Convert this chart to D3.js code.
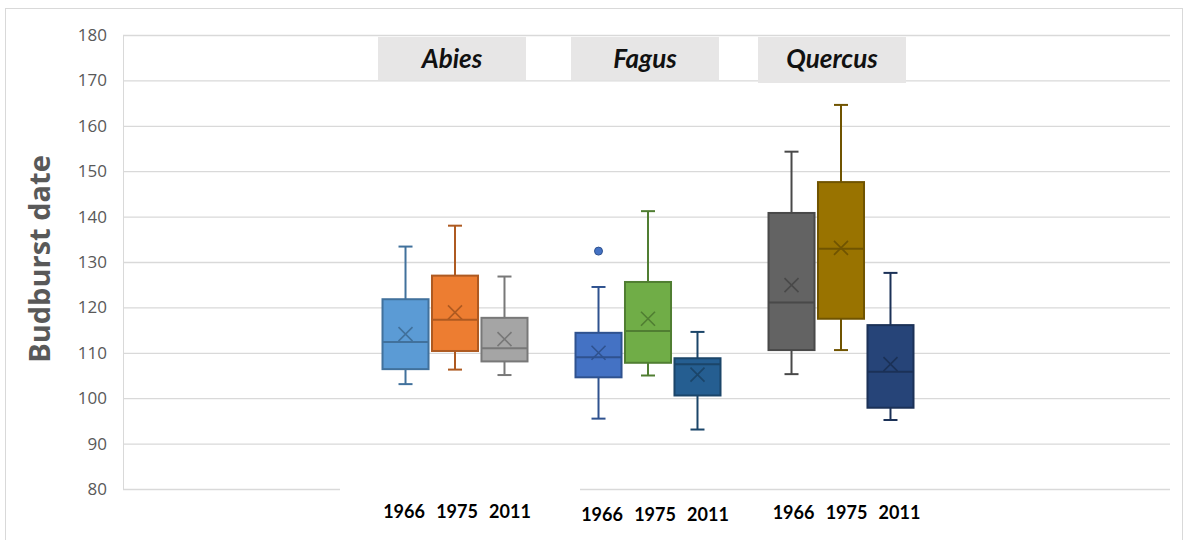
<!DOCTYPE html>
<html>
<head>
<meta charset="utf-8">
<script src="https://cdn.jsdelivr.net/npm/d3@7"></script>
<style>
  body { margin: 0; background: #fff; }
  text { font-family: Lato, "Open Sans", sans-serif; }
</style>
</head>
<body>
<script>
const svgW = 1188;
const svgH = 540;

// data
const species = ['Abies', 'Fagus', 'Quercus'];
const years = ['1966', '1975', '2011'];
const yTicks = [80, 90, 100, 110, 120, 130, 140, 150, 160, 170, 180];
// [low whisker, Q1, median, Q3, high whisker, mean]
const abiesStats = [
  [103.1, 106.4, 112.4, 121.8, 133.4, 114.1],
  [106.3, 110.4, 117.3, 127.0, 138.0, 118.9],
  [105.1, 108.1, 111.0, 117.7, 126.8, 113.0]
];
const fagusStats = [
  [95.5, 104.6, 109.0, 114.4, 124.5, 110.0],
  [105.0, 107.8, 114.8, 125.6, 141.2, 117.5],
  [93.1, 100.6, 107.5, 108.8, 114.6, 105.2]
];
const quercusStats = [
  [105.3, 110.6, 121.1, 140.8, 154.3, 124.9],
  [110.6, 117.5, 132.9, 147.6, 164.6, 133.1],
  [95.2, 97.9, 105.8, 116.1, 127.6, 107.5]
];
const fagusOutliers = [132.4]; // 1966 only

const fills = [
  ['#5b9bd5', '#ed7d31', '#a5a5a5'],
  ['#4472c4', '#70ad47', '#255e91'],
  ['#636363', '#997300', '#264478']
];
const strokes = [
  ['#41719c', '#ae5a21', '#787878'],
  ['#2f528f', '#507e32', '#1b4569'],
  ['#494949', '#705400', '#1b3157']
];

const allStats = [abiesStats, fagusStats, quercusStats];

const svg = d3.select('body')
  .append('svg')
  .attr('width', svgW)
  .attr('height', svgH);

// outer border
svg.append('rect')
  .attr('x', 5.5).attr('y', 8.5)
  .attr('width', 1177).attr('height', 540)
  .attr('fill', 'none')
  .attr('stroke', '#d9d9d9');

const margin = { top: 35, left: 123, right: 1170, bottom: 489 };

const yScale = d3.scaleLinear()
  .domain([80, 180])
  .range([margin.bottom, margin.top]);

const xScale = d3.scaleBand()
  .domain(species)
  .range([358.5, 937.5]);

const xSub = d3.scaleBand()
  .domain(years)
  .range([-72.5, 72.5])
  .paddingInner(0.07);

// year labels are spread a little wider than the boxes
const xLabel = d3.scalePoint()
  .domain(years)
  .range([-53, 53]);

// grid
const yAxis = d3.axisLeft(yScale)
  .tickValues(yTicks)
  .tickSize(-(margin.right - margin.left))
  .tickPadding(16);

const ax = svg.append('g')
  .attr('transform', `translate(${margin.left},0)`)
  .call(yAxis);
ax.select('.domain').attr('stroke', '#d9d9d9');
ax.selectAll('.tick line').attr('stroke', '#d9d9d9').attr('stroke-width', 1.3);
ax.selectAll('.tick text')
  .attr('fill', '#595959')
  .style('font-family', '"Open Sans", sans-serif')
  .style('font-size', '17px');

// white patch hiding baseline under first labels
svg.append('rect')
  .attr('x', 340).attr('y', 487)
  .attr('width', 240).attr('height', 5)
  .attr('fill', '#fff');

// y title
svg.append('text')
  .attr('transform', 'translate(50,259) rotate(-90)')
  .attr('text-anchor', 'middle')
  .attr('fill', '#595959')
  .style('font-family', '"Open Sans", sans-serif')
  .style('font-weight', 'bold')
  .style('font-size', '29px')
  .text('Budburst date');

// species header boxes
const hdrOff = [0, 0, -6];
const hdr = svg.append('g');
species.forEach((s, i) => {
  const cx = xScale(s) + xScale.bandwidth() / 2 + hdrOff[i];
  hdr.append('rect')
    .attr('x', cx - 77).attr('y', 37)
    .attr('width', 148).attr('height', i === 2 ? 46 : 43)
    .attr('fill', '#e7e6e6');
  hdr.append('text')
    .attr('x', cx - 3).attr('y', 68)
    .attr('text-anchor', 'middle')
    .style('font-weight', 'bold')
    .style('font-style', 'italic')
    .style('font-size', '26px')
    .attr('fill', '#111')
    .text(s);
});

// boxes
const labelY = [518, 521, 519];
const labelDx = [2, 7, 5.5];
species.forEach((s, gi) => {
  const g = svg.append('g')
    .attr('transform', `translate(${xScale(s) + xScale.bandwidth() / 2},0)`);
  years.forEach((yr, j) => {
    const d = allStats[gi][j];
    const x0 = xSub(yr);
    const w = xSub.bandwidth();
    const cx = x0 + w / 2;
    const st = strokes[gi][j];
    // whiskers
    g.append('line')
      .attr('x1', cx).attr('x2', cx)
      .attr('y1', yScale(d[0])).attr('y2', yScale(d[1]))
      .attr('stroke', st).attr('stroke-width', 2);
    g.append('line')
      .attr('x1', cx).attr('x2', cx)
      .attr('y1', yScale(d[3])).attr('y2', yScale(d[4]))
      .attr('stroke', st).attr('stroke-width', 2);
    [d[0], d[4]].forEach(v => {
      g.append('line')
        .attr('x1', cx - 7).attr('x2', cx + 7)
        .attr('y1', yScale(v)).attr('y2', yScale(v))
        .attr('stroke', st).attr('stroke-width', 2);
    });
    g.append('rect')
      .attr('x', x0).attr('y', yScale(d[3]))
      .attr('width', w).attr('height', yScale(d[1]) - yScale(d[3]))
      .attr('fill', fills[gi][j])
      .attr('stroke', st).attr('stroke-width', 2);
    g.append('line')
      .attr('x1', x0).attr('x2', x0 + w)
      .attr('y1', yScale(d[2])).attr('y2', yScale(d[2]))
      .attr('stroke', st).attr('stroke-width', 2);
    // mean X
    const my = yScale(d[5]);
    g.append('path')
      .attr('d', `M${cx - 7},${my - 7}L${cx + 7},${my + 7}M${cx - 7},${my + 7}L${cx + 7},${my - 7}`)
      .attr('stroke', st).attr('stroke-width', 1.6).attr('fill', 'none');
    // year label
    g.append('text')
      .attr('x', xLabel(yr) + labelDx[gi]).attr('y', labelY[gi])
      .attr('text-anchor', 'middle')
      .style('font-weight', 'bold')
      .style('font-size', '18px')
      .attr('fill', '#000')
      .text(yr);
  });
  if (s === 'Fagus') {
    fagusOutliers.forEach(v => {
      g.append('circle')
        .attr('cx', xSub('1966') + xSub.bandwidth() / 2)
        .attr('cy', yScale(v))
        .attr('r', 4)
        .attr('fill', fills[1][0])
        .attr('stroke', strokes[1][0]);
    });
  }
});
</script>
</body>
</html>
